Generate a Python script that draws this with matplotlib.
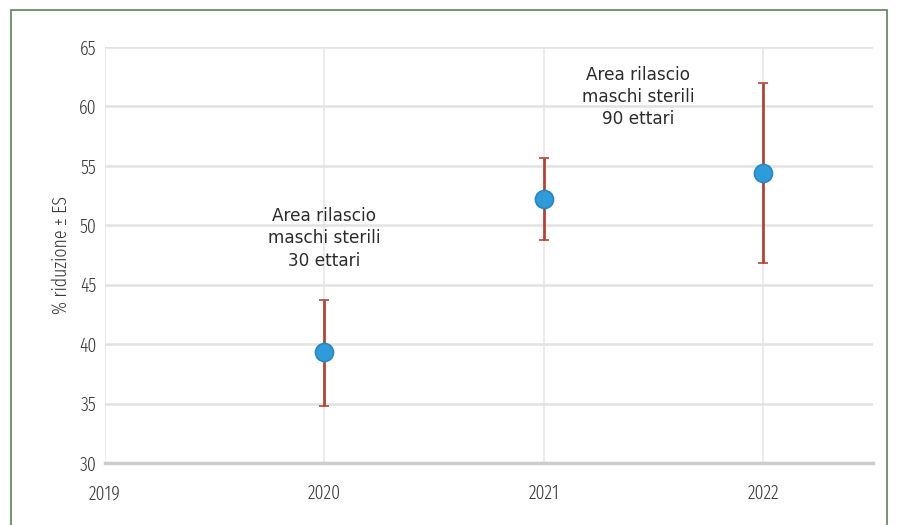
import numpy as np
from matplotlib import pyplot as plt
from matplotlib.patches import Rectangle

# Dati: percentuale di riduzione media per anno, con errore standard
anni = [2020, 2021, 2022]
riduzione = [39.3, 52.2, 54.4]
err_basso = [4.5, 3.4, 7.6]
err_alto = [4.4, 3.5, 7.6]

note = ['Area rilascio\nmaschi sterili\n30 ettari', 'Area rilascio\nmaschi sterili\n90 ettari']
note_x = [2020, 2021.43]
note_y = [48.9, 60.8]

anni_tick = [2019, 2020, 2021, 2022]
valori_tick = [30, 35, 40, 45, 50, 55, 60, 65]

# Font stretto e leggero per gli assi
font_assi = ['Fira Sans Extra Condensed', 'Fira Sans Condensed', 'DejaVu Sans']

fig = plt.figure(figsize=(8.99, 5.25), dpi=100)
ax = fig.add_axes([105 / 899, 1 - 463 / 525, (873 - 105) / 899, (463 - 47) / 525])

ax.errorbar(anni, riduzione, yerr=[err_basso, err_alto], fmt='o', color='#b0453b',
            ecolor='#b0453b', elinewidth=2, capsize=3.5, capthick=2.5,
            markersize=13, markerfacecolor='#2f9bd9', markeredgecolor='#2a86c0',
            markeredgewidth=1.2, zorder=3)

for testo, x, y in zip(note, note_x, note_y):
    ax.text(x, y, testo, ha='center', va='center', fontsize=12.2, color='#2b2b2b',
            family='DejaVu Sans', linespacing=1.3)

ax.set_xlim(2019, 2022.5)
ax.set_ylim(30, 65)
ax.set_xticks(anni_tick)
ax.set_yticks(valori_tick)
ax.yaxis.grid(True, color='#e2e2e2', linewidth=1.8)
ax.xaxis.grid(True, color='#e6e6e6', linewidth=1.1)
ax.set_axisbelow(True)

for lato in ['top', 'right', 'left']:
    ax.spines[lato].set_visible(False)
ax.spines['bottom'].set_color('#cccccc')
ax.spines['bottom'].set_linewidth(2.5)

ax.tick_params(length=0, labelsize=14, colors='#3a3a3a')
ax.tick_params(axis='y', pad=6)
ax.tick_params(axis='x', pad=15)
for lab in ax.get_xticklabels() + ax.get_yticklabels():
    lab.set_family(font_assi)
    lab.set_fontweight(300)

ax.set_ylabel('% riduzione ± ES', family=font_assi, fontweight=300, fontsize=14,
              color='#3a3a3a', labelpad=6)

# Cornice verde attorno alla figura
fig.patches.append(Rectangle((11 / 899, -0.01), 876 / 899, 1 - 10 / 525 + 0.01,
                             transform=fig.transFigure, fill=False,
                             edgecolor='#5f7f5f', linewidth=1.2))

plt.savefig('out.png', dpi=100)
